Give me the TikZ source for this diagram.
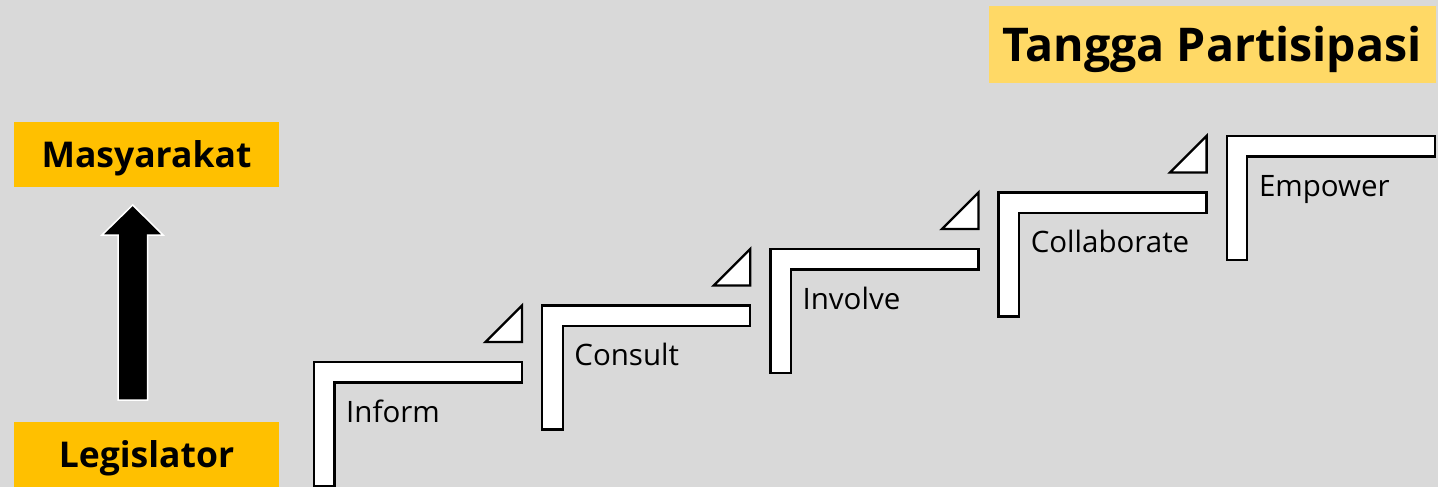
\documentclass[tikz,border=0pt]{standalone}
\usepackage{fontspec}
\setmainfont{Open Sans}
\usetikzlibrary{positioning}

\definecolor{bgGray}{HTML}{D9D9D9}
\definecolor{boxGold}{HTML}{FFC000}
\definecolor{titleGold}{HTML}{FFD966}

\tikzset{
  sidebox/.style={fill=boxGold, minimum width=265, minimum height=65, inner sep=0pt,
    text height=25.5pt, text depth=0pt, font=\fontsize{35.5}{40}\selectfont\bfseries},
  stepshape/.style={draw=black, fill=white, line width=2.3},
  steplabel/.style={anchor=base west, inner sep=0pt, font=\fontsize{29.5}{32}\selectfont}
}

\begin{document}
\begin{tikzpicture}[x=1pt, y=-1pt]  % one unit is one pixel of the picture

            % Background
            \fill[bgGray] (0, 0) rectangle (1438, 487);
            \useasboundingbox (0, 0) rectangle (1438, 487);

            % Title
            \node[fill=titleGold, minimum width=447, minimum height=77, inner sep=0pt,
                  text height=33pt, text depth=0pt, font=\fontsize{46.5}{52}\selectfont\bfseries]
                  (title) at (1212, 45) {Tangga Partisipasi};

            % Side boxes
            \node[sidebox] (masy) at (146.5, 154.5) {Masyarakat};
            \node[sidebox] (legis) at (146.5, 454.5) {Legislator};

            % Arrow
            \draw[fill=black, draw=white, line width=1.5] (118, 400) -- (147.5, 400) -- (147.5, 235)
                  -- (163, 235) -- (132.7, 205) -- (102, 235) -- (118, 235) -- cycle;

            % Steps
            \foreach \i/\name/\txt in {0/inform/Inform, 1/consult/Consult, 2/involve/Involve,
                                       3/collab/Collaborate, 4/empower/Empower} {
              \pgfmathsetmacro{\sx}{314 + 228.2*\i}
              \pgfmathsetmacro{\sy}{362 - 56.5*\i}
              \draw[stepshape] (\sx, \sy) -- ++(208, 0) -- ++(0, 20.5) -- ++(-187.5, 0)
                    -- ++(0, 103.5) -- ++(-20.5, 0) -- cycle;
              \node[steplabel] (\name) at (\sx + 32, \sy + 60) {\txt};
            }

            % Small triangles
            \foreach \i in {0,...,3} {
              \pgfmathsetmacro{\sx}{314 + 228.2*\i}
              \pgfmathsetmacro{\sy}{362 - 56.5*\i}
              \draw[stepshape] (\sx + 208, \sy - 56.5) -- (\sx + 208, \sy - 20)
                    -- (\sx + 171.5, \sy - 20) -- cycle;
            }

        \end{tikzpicture}
\end{document}
